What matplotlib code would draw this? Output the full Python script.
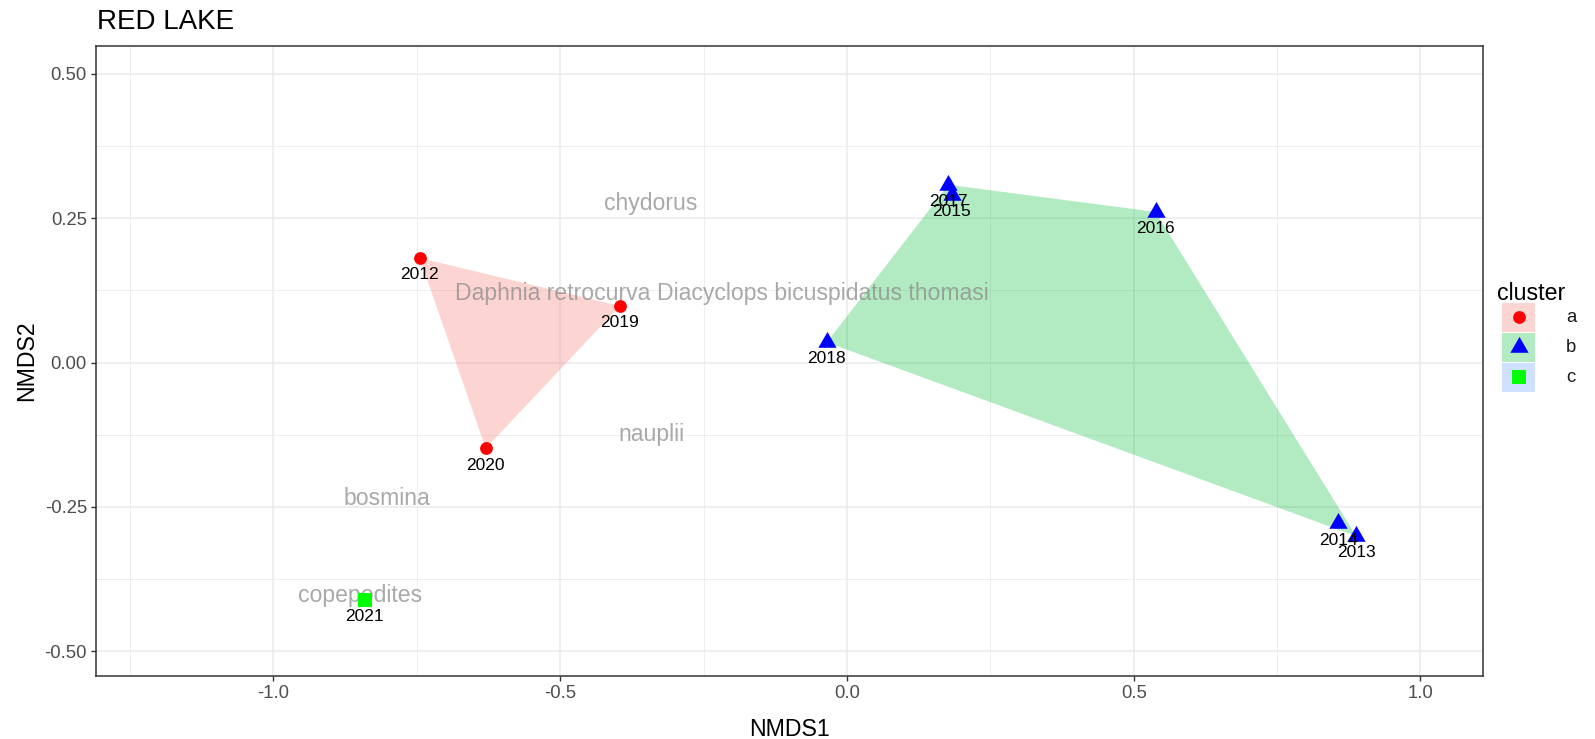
import numpy as np
import matplotlib
matplotlib.use("Agg")
import matplotlib.pyplot as plt
from matplotlib.patches import Polygon, Rectangle
from matplotlib.ticker import FixedLocator

plt.rcParams['font.family'] = ['Liberation Sans', 'DejaVu Sans']

# NMDS site scores
years = ["2012", "2019", "2020", "2021", "2017", "2015", "2016", "2018", "2014", "2013"]
nmds1 = [-0.745, -0.396, -0.630, -0.841, 0.177, 0.183, 0.538, -0.035, 0.857, 0.888]
nmds2 = [0.181, 0.098, -0.149, -0.412, 0.308, 0.290, 0.261, 0.035, -0.279, -0.301]
cluster = ["a", "a", "a", "c", "b", "b", "b", "b", "b", "b"]

# species scores
species = ["chydorus", "Daphnia retrocurva", "Diacyclops bicuspidatus thomasi",
           "nauplii", "bosmina", "copepodites"]
sp_x = [-0.342, -0.513, -0.042, -0.340, -0.803, -0.849]
sp_y = [0.276, 0.120, 0.120, -0.125, -0.235, -0.403]

cluster_levels = ["a", "b", "c"]
point_colors = {"a": "#FF0000", "b": "#0000FF", "c": "#00FF00"}
hull_colors = {"a": "#F8766D", "b": "#00BA38", "c": "#619CFF"}

x_ticks = [-1.0, -0.5, 0.0, 0.5, 1.0]
x_ticklabels = ["-1.0", "-0.5", "0.0", "0.5", "1.0"]
y_ticks = [-0.50, -0.25, 0.00, 0.25, 0.50]
y_ticklabels = ["-0.50", "-0.25", "0.00", "0.25", "0.50"]

TRIANGLE = [(0, 1), (0.866, -0.5), (-0.866, -0.5)]
markers = {"a": "o", "b": TRIANGLE, "c": "s"}
msizes = {"a": 9.2, "b": 15.2, "c": 9.6}


def convex_hull(pts):
    pts = sorted(set(pts))
    if len(pts) <= 2:
        return pts

    def cross(o, a, b):
        return (a[0] - o[0]) * (b[1] - o[1]) - (a[1] - o[1]) * (b[0] - o[0])

    lower, upper = [], []
    for p in pts:
        while len(lower) >= 2 and cross(lower[-2], lower[-1], p) <= 0:
            lower.pop()
        lower.append(p)
    for p in reversed(pts):
        while len(upper) >= 2 and cross(upper[-2], upper[-1], p) <= 0:
            upper.pop()
        upper.append(p)
    return lower[:-1] + upper[:-1]


W, H = 1595, 739
fig = plt.figure(figsize=(W / 100, H / 100), dpi=100)
ax = fig.add_axes([95.7 / W, 1 - 676 / H, (1482.7 - 95.7) / W, (676 - 46) / H])

ax.set_xlim(-1.310, 1.1085)
ax.set_ylim(-0.5433, 0.5485)

# grid
ax.xaxis.set_major_locator(FixedLocator(x_ticks))
ax.yaxis.set_major_locator(FixedLocator(y_ticks))
ax.xaxis.set_minor_locator(FixedLocator([-1.25, -0.75, -0.25, 0.25, 0.75]))
ax.yaxis.set_minor_locator(FixedLocator([-0.375, -0.125, 0.125, 0.375]))
ax.set_xticklabels(x_ticklabels)
ax.set_yticklabels(y_ticklabels)
ax.grid(which="major", color="#EBEBEB", linewidth=1.1)
ax.grid(which="minor", color="#EBEBEB", linewidth=0.6)
ax.set_axisbelow(True)
ax.tick_params(which="minor", length=0)
ax.tick_params(which="major", length=3.8, width=1.0, color="#333333",
               labelsize=13.3, labelcolor="#4D4D4D", pad=2.5)
for s in ax.spines.values():
    s.set_color("#333333")
    s.set_linewidth(1.1)

# cluster hulls
for lev in cluster_levels:
    pts = [(x, y) for x, y, c in zip(nmds1, nmds2, cluster) if c == lev]
    hull = convex_hull(pts)
    if len(hull) >= 3:
        ax.add_patch(Polygon(hull, closed=True, facecolor=hull_colors[lev],
                             alpha=0.3, edgecolor="none", zorder=1))

# species labels
for name, x, y in zip(species, sp_x, sp_y):
    ax.text(x, y, name, ha="center", va="center", fontsize=16.6,
            color="#8C8C8C", alpha=0.75, zorder=2)

# site points
for lev in cluster_levels:
    xs = [x for x, c in zip(nmds1, cluster) if c == lev]
    ys = [y for y, c in zip(nmds2, cluster) if c == lev]
    ax.plot(xs, ys, linestyle="none", marker=markers[lev], ms=msizes[lev],
            color=point_colors[lev], markeredgewidth=0, zorder=3)

# year labels
for yr, x, y in zip(years, nmds1, nmds2):
    ax.annotate(yr, (x, y), xytext=(0, -12), textcoords="offset points",
                ha="center", va="center", fontsize=12.5, color="black", zorder=4)

ax.set_xlabel("NMDS1", fontsize=16.7, color="black")
ax.set_ylabel("NMDS2", fontsize=16.7, color="black")
ax.xaxis.label.set_va("baseline")
ax.yaxis.label.set_va("center")
ax.xaxis.set_label_coords(0.5, (676 - 735.5) / 630)
ax.yaxis.set_label_coords((27 - 95.7) / 1387, 0.5)

fig.text(96.7 / W, 1 - 21.7 / H, "RED LAKE", ha="left", va="center",
         fontsize=20, color="black")

# legend
lax = fig.add_axes([0, 0, 1, 1], facecolor="none")
lax.set_xlim(0, W)
lax.set_ylim(H, 0)
lax.axis("off")
lax.text(1497, 293, "cluster", ha="left", va="center", fontsize=16.7, color="black")
key_centers = [317, 347, 377]
for lev, cy in zip(cluster_levels, key_centers):
    lax.add_patch(Rectangle((1502, cy - 14.5), 33, 29, facecolor=hull_colors[lev],
                            alpha=0.3, edgecolor="none"))
    lax.plot([1518.5], [cy], linestyle="none", marker=markers[lev],
             ms=msizes[lev], color=point_colors[lev], markeredgewidth=0)
    lax.text(1566, cy, lev, ha="left", va="center", fontsize=13.3, color="#1A1A1A")

fig.savefig("out.png", dpi=100, facecolor="white")
